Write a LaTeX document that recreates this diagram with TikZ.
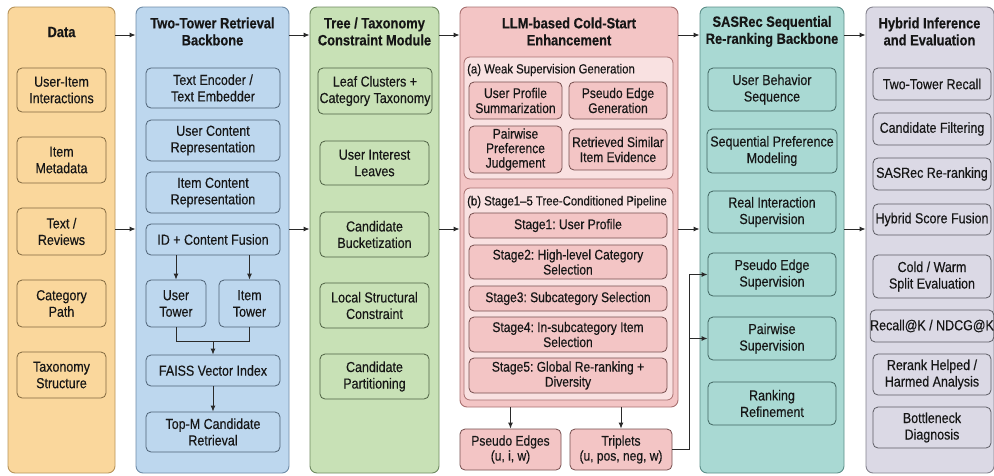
\documentclass[tikz,border=0pt]{standalone}
\usepackage{fontspec}
\setmainfont{Liberation Sans}[FakeStretch=0.86, FakeBold=0.35]
\usetikzlibrary{arrows.meta,calc}
\frenchspacing

\definecolor{dataFill}{HTML}{FAD79C}
\definecolor{dataLine}{HTML}{B8945A}
\definecolor{towFill}{HTML}{BDD7EE}
\definecolor{towLine}{HTML}{6F8CA8}
\definecolor{treeFill}{HTML}{C8E1B6}
\definecolor{treeLine}{HTML}{6F8A60}
\definecolor{llmFill}{HTML}{F3C5C5}
\definecolor{llmPanel}{HTML}{F9E1E1}
\definecolor{llmLine}{HTML}{A87070}
\definecolor{seqFill}{HTML}{A9D9D3}
\definecolor{seqLine}{HTML}{5C8F89}
\definecolor{hybFill}{HTML}{DBD9E5}
\definecolor{hybLine}{HTML}{85838F}
\definecolor{arrowGrey}{HTML}{2A2A2A}
\definecolor{txt}{HTML}{161616}

\newcommand\bxfont{\fontsize{14.5}{16.5}\selectfont}
\newcommand\ttlfont{\fontsize{15}{17}\selectfont\bfseries}
\newcommand\lblfont{\fontsize{13.2}{15}\selectfont}

% box from corner (x1,y1) to corner (x2,y2), in pixel-like units
\newcommand\mkbox[7][]{%
  \node[#1, minimum width={(#5-#3)*1pt}, minimum height={(#6-#4)*1pt}]
    (#2) at ({(#3+#5)/2},{(#4+#6)/2}) {#7};}

\tikzset{
  col/.style={rectangle, rounded corners=7pt, draw=#1Line, fill=#1Fill, line width=0.9pt, inner sep=0pt},
  panel/.style={rectangle, rounded corners=6pt, draw=llmLine, fill=llmPanel, line width=0.8pt, inner sep=0pt},
  inbox/.style={rectangle, rounded corners=5pt, draw=#1Line!70!black, fill=#1Fill, line width=0.8pt,
    align=center, inner sep=0pt, font=\bxfont, text=txt},
  llmbox/.style={inbox=llm, font=\fontsize{14}{15}\selectfont},
  ttl/.style={align=center, font=\ttlfont, text=txt, inner sep=0pt},
  lbl/.style={anchor=west, font=\lblfont, text=txt, inner sep=0pt},
  arr/.style={-{Latex[length=6pt,width=5pt]}, line width=1pt, draw=arrowGrey},
  link/.style={line width=1pt, draw=arrowGrey}
}

\begin{document}
\begin{tikzpicture}[x=1pt,y=-1pt]
\useasboundingbox (0,0) rectangle (994,475);
\fill[white] (0,0) rectangle (994,475);

% ---------- columns ----------
\mkbox[col=data]{dataCol}{8}{7}{115}{473}{}
\mkbox[col=tow]{towCol}{136}{7}{289}{473}{}
\mkbox[col=tree]{treeCol}{310}{7}{439}{473}{}
\mkbox[col=llm]{llmCol}{460}{7}{678}{407}{}
\mkbox[col=seq]{seqCol}{700}{7}{844}{473}{}
\mkbox[col=hyb]{hybCol}{866}{7}{994}{473}{}

% ---------- titles ----------
\node[ttl] (dataT) at (61.5,32) {Data};
\node[ttl] (towT) at (212.5,31.5) {Two-Tower Retrieval\\Backbone};
\node[ttl] (treeT) at (374.5,31.5) {Tree / Taxonomy\\Constraint Module};
\node[ttl] (llmT) at (569,31.5) {LLM-based Cold-Start\\Enhancement};
\node[ttl] (seqT) at (772,31.5) {SASRec Sequential\\Re-ranking Backbone};
\node[ttl] (hybT) at (929.5,31.5) {Hybrid Inference\\and Evaluation};

% ---------- Data ----------
\mkbox[inbox=data]{d1}{17}{68}{106}{112}{User-Item\\Interactions}
\mkbox[inbox=data]{d2}{17}{137}{106}{183}{Item\\Metadata}
\mkbox[inbox=data]{d3}{17}{208}{106}{255}{Text /\\Reviews}
\mkbox[inbox=data]{d4}{17}{280}{106}{327}{Category\\Path}
\mkbox[inbox=data]{d5}{17}{352}{106}{398}{Taxonomy\\Structure}

% ---------- Two-Tower ----------
\mkbox[inbox=tow]{t1}{146}{68}{280}{108}{Text Encoder /\\Text Embedder}
\mkbox[inbox=tow]{t2}{146}{120}{280}{161}{User Content\\Representation}
\mkbox[inbox=tow]{t3}{146}{172}{280}{213}{Item Content\\Representation}
\mkbox[inbox=tow]{fusion}{146}{224}{280}{255}{ID + Content Fusion}
\mkbox[inbox=tow]{utower}{146}{280}{206}{327}{User\\Tower}
\mkbox[inbox=tow]{itower}{219}{280}{280}{327}{Item\\Tower}
\mkbox[inbox=tow]{faiss}{146}{355}{280}{386}{FAISS Vector Index}
\mkbox[inbox=tow]{topm}{146}{412}{280}{452}{Top-M Candidate\\Retrieval}

\draw[arr] (fusion.south -| utower.north) -- (utower.north);
\draw[arr] (fusion.south -| itower.north) -- (itower.north);
\draw[link] (utower.south) -- ++(0,14) coordinate (join) -| (itower.south);
\draw[arr] (faiss.north |- join) -- (faiss.north);
\draw[arr] (faiss.south) -- (topm.north);

% ---------- Tree / Taxonomy ----------
\mkbox[inbox=tree]{r1}{318}{68}{432}{114}{Leaf Clusters +\\Category Taxonomy}
\mkbox[inbox=tree]{r2}{320}{141}{429}{185}{User Interest\\Leaves}
\mkbox[inbox=tree]{r3}{320}{212}{429}{257}{Candidate\\Bucketization}
\mkbox[inbox=tree]{r4}{320}{283}{429}{328}{Local Structural\\Constraint}
\mkbox[inbox=tree]{r5}{320}{354}{429}{399}{Candidate\\Partitioning}

% ---------- LLM cold-start ----------
\mkbox[panel]{pa}{464}{57}{673}{179}{}
\node[lbl] (paL) at (467,70) {(a) Weak Supervision Generation};
\mkbox[llmbox]{a1}{469}{82}{562}{119}{User Profile\\Summarization}
\mkbox[llmbox]{a2}{569}{82}{667}{119}{Pseudo Edge\\Generation}
\mkbox[llmbox, font=\fontsize{14}{14.5}\selectfont]{a3}{469}{126}{562}{173}{Pairwise\\Preference\\Judgement}
\mkbox[llmbox]{a4}{569}{129}{667}{170}{Retrieved Similar\\Item Evidence}

\mkbox[panel]{pb}{464}{188}{673}{400}{}
\node[lbl] (pbL) at (467,202) {(b) Stage1--5 Tree-Conditioned Pipeline};
\mkbox[llmbox]{s1}{469}{213}{667}{238}{Stage1: User Profile}
\mkbox[llmbox]{s2}{469}{245}{667}{279}{Stage2: High-level Category\\Selection}
\mkbox[llmbox]{s3}{469}{286}{667}{311}{Stage3: Subcategory Selection}
\mkbox[llmbox]{s4}{469}{317}{667}{352}{Stage4: In-subcategory Item\\Selection}
\mkbox[llmbox]{s5}{469}{358}{667}{393}{Stage5: Global Re-ranking +\\Diversity}

\mkbox[llmbox]{pedges}{460}{429}{561}{470}{Pseudo Edges\\(u, i, w)}
\mkbox[llmbox]{trip}{570}{429}{672}{470}{Triplets\\(u, pos, neg, w)}
\draw[arr] (llmCol.south -| pedges.north) -- (pedges.north);
\draw[arr] (llmCol.south -| trip.north) -- (trip.north);

% ---------- SASRec ----------
\mkbox[inbox=seq]{q1}{708}{68}{836}{111}{User Behavior\\Sequence}
\mkbox[inbox=seq]{q2}{707}{129}{837}{173}{Sequential Preference\\Modeling}
\mkbox[inbox=seq]{q3}{708}{191}{836}{233}{Real Interaction\\Supervision}
\mkbox[inbox=seq]{q4}{708}{253}{836}{296}{Pseudo Edge\\Supervision}
\mkbox[inbox=seq]{q5}{708}{317}{836}{360}{Pairwise\\Supervision}
\mkbox[inbox=seq]{q6}{708}{382}{836}{425}{Ranking\\Refinement}

\coordinate (bus) at (689,0);
\draw[link] (trip.east) -| (bus |- q4.west);
\draw[arr] (bus |- q4.west) -- (q4.west);
\draw[arr] (bus |- q5.west) -- (q5.west);

% ---------- Hybrid inference ----------
\mkbox[inbox=hyb]{h1}{873}{68}{991}{100}{Two-Tower Recall}
\mkbox[inbox=hyb]{h2}{873}{113}{991}{145}{Candidate Filtering}
\mkbox[inbox=hyb]{h3}{873}{158}{991}{190}{SASRec Re-ranking}
\mkbox[inbox=hyb]{h4}{873}{204}{991}{235}{Hybrid Score Fusion}
\mkbox[inbox=hyb]{h5}{873}{255}{991}{298}{Cold / Warm\\Split Evaluation}
\mkbox[inbox=hyb]{h6}{873}{310}{991}{342}{Recall@K / NDCG@K}
\mkbox[inbox=hyb]{h7}{873}{354}{991}{395}{Rerank Helped /\\Harmed Analysis}
\mkbox[inbox=hyb]{h8}{873}{407}{991}{448}{Bottleneck\\Diagnosis}

% ---------- flow between columns ----------
\coordinate (rowA) at (0,35);
\coordinate (rowB) at (0,229);
\foreach \a/\b in {dataCol/towCol, towCol/treeCol, treeCol/llmCol, llmCol/seqCol, seqCol/hybCol}{
  \draw[arr] (\a.east |- rowA) -- (\b.west |- rowA);
  \draw[arr] (\a.east |- rowB) -- (\b.west |- rowB);
}
\end{tikzpicture}
\end{document}
